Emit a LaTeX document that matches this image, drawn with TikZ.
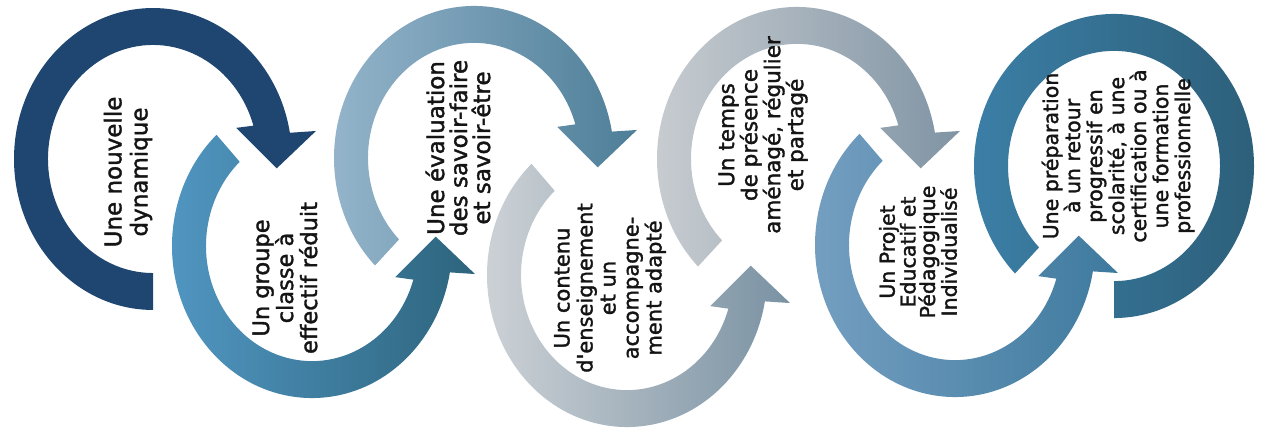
\documentclass[tikz,border=0pt]{standalone}
\usepackage{fontspec}
\setmainfont{DejaVu Sans}
\newfontfamily\lblfont{DejaVu Sans}[FakeBold=1.6]
\usetikzlibrary{calc}

\definecolor{navy}{RGB}{30,70,112}
\definecolor{blueL}{RGB}{82,152,196}
\definecolor{blueD}{RGB}{45,100,125}
\definecolor{steelL}{RGB}{150,182,204}
\definecolor{steelD}{RGB}{78,126,152}
\definecolor{greyL}{RGB}{208,212,216}
\definecolor{greyD}{RGB}{122,146,163}
\definecolor{paleL}{RGB}{202,206,210}
\definecolor{paleD}{RGB}{128,148,164}
\definecolor{skyL}{RGB}{118,160,194}
\definecolor{skyD}{RGB}{62,122,158}
\definecolor{tealL}{RGB}{60,128,168}
\definecolor{tealD}{RGB}{44,94,120}

\tikzset{
  ring/.style={yscale=1.086},
  lbl/.style={rotate=90, align=center, text=black!92, inner sep=0pt}
}

\begin{document}
\begin{tikzpicture}[x=1pt,y=1pt]
        \useasboundingbox (0,0) rectangle (1263,431);

        % centres of the rings
        \coordinate (c1) at (153,272);
        \coordinate (c2) at (312,185);
        \coordinate (c3) at (474,273);
        \coordinate (c4) at (627,156);
        \coordinate (c5) at (797,272);
        \coordinate (c6) at (955,186);
        \coordinate (c7) at (1114,265);

        % upper rings turn clockwise, lower ones anticlockwise
        \begin{scope}[shift={(c1)}, ring]
        \fill[navy] (270:139) arc[start angle=270, end angle=10, radius=139] -- (9:165) -- (-4:124) -- (19:88) -- (17:105) arc[start angle=17, end angle=270, radius=105] -- cycle;
        \end{scope}

        \begin{scope}[shift={(c2)}, ring]
        \shade[left color=blueL, right color=blueD] (133:140) arc[start angle=133, end angle=350, radius=140] -- (351:165) -- (364:124) -- (341:88) -- (343:106) arc[start angle=343, end angle=133, radius=106] -- cycle;
        \end{scope}

        \begin{scope}[shift={(c3)}, ring]
        \shade[left color=steelL, right color=steelD] (225:140) arc[start angle=225, end angle=10, radius=140] -- (9:165) -- (-4:124) -- (19:88) -- (17:106) arc[start angle=17, end angle=225, radius=106] -- cycle;
        \end{scope}

        \begin{scope}[shift={(c4)}, ring]
        \shade[left color=greyL, right color=greyD] (133:140) arc[start angle=133, end angle=350, radius=140] -- (351:165) -- (364:124) -- (341:88) -- (343:106) arc[start angle=343, end angle=133, radius=106] -- cycle;
        \end{scope}

        \begin{scope}[shift={(c5)}, ring]
        \shade[left color=paleL, right color=paleD] (225:140) arc[start angle=225, end angle=10, radius=140] -- (9:165) -- (-4:124) -- (19:88) -- (17:106) arc[start angle=17, end angle=225, radius=106] -- cycle;
        \end{scope}

        \begin{scope}[shift={(c6)}, ring]
        \shade[left color=skyL, right color=skyD] (133:140) arc[start angle=133, end angle=350, radius=140] -- (351:165) -- (364:124) -- (341:88) -- (343:106) arc[start angle=343, end angle=133, radius=106] -- cycle;
        \end{scope}

        % last ring, no arrow head
        \begin{scope}[shift={(c7)}, ring]
        \shade[left color=tealL, right color=tealD] (225:140) arc[start angle=225, end angle=-90, radius=140] -- (-90:106) arc[start angle=-90, end angle=225, radius=106] -- cycle;
        \end{scope}

        % labels
        \node[lbl, font=\lblfont\fontsize{23}{26}\selectfont] (dyn) at (128,259) {Une nouvelle\\dynamique};
        \node[lbl, font=\lblfont\fontsize{22.5}{24}\selectfont] (groupe) at (285,153) {Un groupe\\classe à\\effectif réduit};
        \node[lbl, font=\lblfont\fontsize{23}{23}\selectfont] (eval) at (458,283) {Une évaluation\\des savoir-faire\\et savoir-être};
        \node[lbl, font=\lblfont\fontsize{21}{23}\selectfont] (contenu) at (610,143) {Un contenu\\d\textquotesingle enseignement\\et un\\accompagne-\\ment adapté};
        \node[lbl, font=\lblfont\fontsize{21.5}{23}\selectfont] (temps) at (763,296) {Un temps\\de présence\\aménagé, régulier\\et partagé};
        \node[lbl, font=\lblfont\fontsize{20.5}{19.5}\selectfont] (projet) at (918,179) {Un Projet\\Educatif et\\Pédagogique\\Individualisé};
        \node[lbl, font=\lblfont\fontsize{20.5}{22}\selectfont] (prepa) at (1118,275) {Une préparation\\à un retour\\progressif en\\scolarité, à une\\certification ou à\\une formation\\professionnelle};
    \end{tikzpicture}
\end{document}
